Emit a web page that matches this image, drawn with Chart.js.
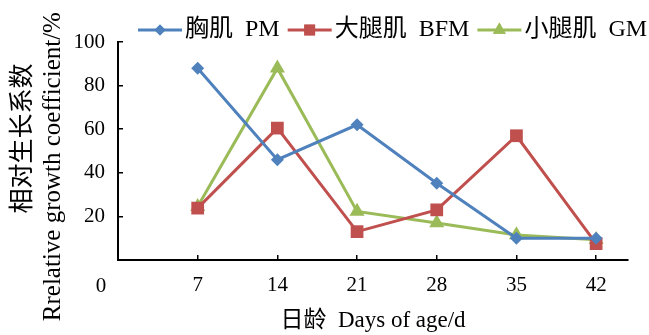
<!DOCTYPE html>
<html>
<head>
<meta charset="utf-8">
<script src="https://cdn.jsdelivr.net/npm/chart.js@4"></script>
<style>
  html, body { margin: 0; padding: 0; background: #fff; }
  #wrap { width: 649px; height: 335px; }
</style>
</head>
<body>
<div id="wrap"><canvas id="grafico"></canvas></div>
<script>
// dados
const dias = [7, 14, 21, 28, 35, 42];
const peitoral = [88, 46, 62, 35.2, 10, 10];        // 胸肌 PM
const coxa = [23.8, 60.5, 13, 23, 57, 7.5];         // 大腿肌 BFM
const perna = [24.5, 88, 22.3, 17, 11.5, 9.3];      // 小腿肌 GM
const nomes = ['胸肌  PM', '大腿肌  BFM', '小腿肌  GM'];
const ticksY = [20, 40, 60, 80, 100];

const fonte = "'Liberation Serif', 'Noto Sans CJK SC', serif";
const cores = ['#4F81BD', '#C0504D', '#9BBB59'];
const estilos = ['rectRot', 'rect', 'triangle'];
const raios = [6.5, 9, 8.7];

function pares(valores) {
    return dias.map((d, i) => ({ x: d, y: valores[i] }));
}

// legenda desenhada à mão (linha + marcador + texto), em cima do gráfico
const legendaPlugin = {
    id: 'legendaManual',
    afterDraw(chart) {
        const ctx = chart.ctx;
        ctx.save();
        ctx.font = '24px ' + fonte;
        ctx.textBaseline = 'middle';
        ctx.textAlign = 'left';
        let x = 138;
        const y = 30;
        chart.data.datasets.forEach((ds, i) => {
            ctx.strokeStyle = cores[i];
            ctx.fillStyle = cores[i];
            ctx.lineWidth = 3;
            ctx.beginPath();
            ctx.moveTo(x, y);
            ctx.lineTo(x + 44, y);
            ctx.stroke();
            Chart.helpers.drawPoint(ctx, { pointStyle: estilos[i], radius: raios[i] * 0.85, rotation: 0, borderWidth: 0 }, x + 22, y);
            ctx.fill();
            ctx.fillStyle = '#000';
            ctx.fillText(ds.label, x + 47, y);
            x += 47 + ctx.measureText(ds.label).width + 8;
        });
        ctx.restore();
    }
};

// "0" no canto da origem, como no original
const origemPlugin = {
    id: 'origem',
    afterDraw(chart) {
        const { ctx, scales } = chart;
        ctx.save();
        ctx.font = '21px ' + fonte;
        ctx.fillStyle = '#000';
        ctx.textAlign = 'center';
        ctx.textBaseline = 'middle';
        ctx.fillText('0', scales.x.getPixelForValue(0) - 17, scales.x.top + 26);
        ctx.restore();
    }
};

const series = [peitoral, coxa, perna];

new Chart(document.getElementById('grafico'), {
    type: 'line',
    data: {
        datasets: series.map((s, i) => ({
            label: nomes[i],
            data: pares(s),
            borderColor: cores[i],
            backgroundColor: cores[i],
            borderWidth: 3,
            pointStyle: estilos[i],
            pointRadius: raios[i],
            pointBorderWidth: 0,
            pointHoverRadius: raios[i],
            tension: 0,
            fill: false
        }))
    },
    options: {
        responsive: true,
        maintainAspectRatio: false,
        animation: false,
        layout: { padding: { left: 0, right: 21, top: 42, bottom: 0 } },
        plugins: {
            tooltip: { enabled: false },
            legend: { display: false }
        },
        scales: {
            x: {
                type: 'linear',
                min: 0,
                max: 44.8,
                afterFit(scale) { scale.height = 75; },
                grid: { drawOnChartArea: false, drawTicks: true, tickLength: -5, color: '#000', lineWidth: 1.5 },
                border: { color: '#000', width: 2 },
                ticks: {
                    stepSize: 7,
                    includeBounds: false,
                    color: '#000',
                    padding: 18,
                    font: { family: fonte, size: 21 },
                    callback: v => (v === 0 ? '' : v)
                },
                title: {
                    display: true,
                    text: '日龄  Days of age/d',
                    color: '#000',
                    font: { family: fonte, size: 23 },
                    padding: { top: 0, bottom: 0 }
                }
            },
            y: {
                min: 0,
                max: 100,
                afterBuildTicks(scale) {
                    scale.ticks = ticksY.map(v => ({ value: v }));
                },
                afterFit(scale) { scale.width = 118; },
                grid: { drawOnChartArea: false, drawTicks: true, tickLength: -5, color: '#000', lineWidth: 1.5 },
                border: { color: '#000', width: 2 },
                ticks: {
                    color: '#000',
                    padding: 18,
                    font: { family: fonte, size: 21 }
                },
                title: {
                    display: true,
                    text: ['    相对生长系数', 'Rrelative growth coefficient/%     '],
                    color: '#000',
                    font: { family: fonte, size: 25 },
                    padding: { top: 8, bottom: 0 }
                }
            }
        }
    },
    plugins: [origemPlugin, legendaPlugin]
});
</script>
</body>
</html>
